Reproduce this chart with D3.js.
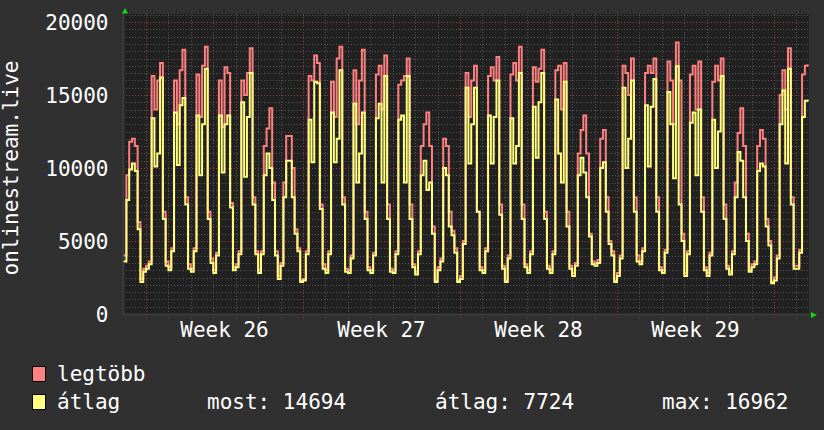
<!DOCTYPE html>
<html>
<head>
<meta charset="utf-8">
<script src="https://cdn.jsdelivr.net/npm/d3@7"></script>
<style>
  body { margin: 0; background: #303030; }
  svg { display: block; }
  text { font-family: "DejaVu Sans Mono", monospace; font-size: 21px; fill: #ffffff; }
</style>
</head>
<body>
<svg id="chart" width="824" height="430"></svg>
<script>
// első nap (vasárnap) és 3 órás mintavétel
const startDay = new Date(Date.UTC(2023, 5, 25));
const stepHours = 3;
const spanDays = 30.56;

// legtöbb (max) értékek, naponta 8 minta
const maxValues = [
  4000, 9500, 11800, 12000, 11500, 6300, 2400, 3100,
  3300, 3600, 16300, 14000, 16000, 17200, 7000, 3600,
  3200, 4500, 16000, 13000, 16700, 18100, 8000, 3400,
  3100, 4500, 16400, 13500, 17000, 18300, 7000, 3800,
  3000, 4200, 16000, 12800, 16900, 16500, 7600, 3200,
  3400, 4300, 16000, 15000, 16500, 18200, 8000, 4300,
  3000, 4300, 11500, 12700, 14100, 9000, 4300, 2600,
  3500, 9000, 12200, 12200, 10000, 5800, 4500, 2300,
  2400, 4300, 16300, 16000, 17700, 17200, 7500, 3400,
  3000, 4300, 15900, 13500, 17500, 18300, 8000, 3100,
  3000, 4000, 16700, 13000, 16000, 18100, 7000, 3200,
  3000, 4200, 16400, 17000, 14000, 17700, 7500, 3100,
  3000, 4300, 15700, 16000, 16300, 17500, 7500, 3400,
  2900, 4300, 11500, 13000, 13800, 11500, 6000, 2300,
  3200, 3800, 12000, 11500, 7000, 5700, 4500, 2300,
  2600, 5000, 16500, 13500, 16000, 17000, 7000, 3200,
  3000, 4500, 16300, 16900, 16000, 17600, 7500, 3300,
  2300, 4000, 16400, 17200, 16000, 18300, 7500, 3400,
  3000, 4300, 16900, 15900, 16800, 18100, 7000, 3300,
  3000, 4300, 16700, 17000, 14000, 17200, 7000, 3300,
  2800, 3500, 11000, 12600, 13600, 11000, 5500, 3600,
  3500, 3700, 12000, 12600, 8000, 5000, 4300, 2300,
  2800, 4000, 17000, 16500, 15000, 17500, 8000, 4000,
  3600, 4500, 16500, 17000, 16500, 17500, 8000, 3200,
  3000, 4400, 17300, 16000, 13000, 18600, 16000, 5500,
  2800, 4300, 16400, 17000, 14000, 17300, 8000, 3200,
  2800, 4200, 15900, 17000, 16000, 17500, 7500, 3300,
  2900, 4300, 9000, 12400, 14100, 11500, 5500, 3000,
  3400, 3600, 11500, 12600, 12000, 6500, 5000, 2200,
  2500, 4000, 15000, 16700, 14000, 18200, 8000, 3300,
  3300, 4400, 16400, 17000, 17100
];

// átlag értékek
const avgValues = [
  3600, 7800, 9900, 10300, 9800, 5800, 2200, 2900,
  3100, 3400, 13400, 10100, 11000, 16200, 6500, 3300,
  3000, 4300, 13800, 10200, 14300, 14800, 7500, 3100,
  2900, 4300, 13600, 9500, 13000, 16800, 6500, 3500,
  2800, 4000, 13600, 9700, 13000, 13600, 7300, 3000,
  3200, 4100, 14500, 9400, 13500, 16500, 7500, 4100,
  2800, 4100, 9500, 11000, 10000, 7800, 4000, 2400,
  3300, 8000, 10500, 10500, 8000, 5500, 4300, 2200,
  2300, 4100, 13300, 10400, 15900, 15800, 7200, 3100,
  2800, 4100, 13800, 10400, 12000, 16700, 7500, 2900,
  2800, 3800, 14400, 9000, 11000, 13800, 6500, 3000,
  2800, 4000, 13400, 14400, 9000, 16300, 6500, 2900,
  2800, 4100, 13300, 13600, 9000, 16300, 6500, 3200,
  2700, 4100, 9500, 10500, 8500, 9000, 5500, 2200,
  3000, 3600, 10000, 9500, 6000, 5400, 4200, 2200,
  2400, 4800, 15500, 10300, 13000, 15500, 7000, 3000,
  2800, 4300, 13600, 10300, 13500, 16000, 6800, 3100,
  2200, 3800, 13400, 10300, 11500, 16500, 6500, 3200,
  2800, 4100, 14200, 10700, 14500, 16500, 6500, 3100,
  2800, 4100, 14700, 11000, 9000, 15900, 6000, 3100,
  2600, 3300, 9500, 10700, 9700, 8000, 5300, 3400,
  3300, 3500, 10000, 10400, 7000, 4800, 4000, 2200,
  2600, 3800, 15500, 10000, 12000, 16000, 7000, 3600,
  3400, 4300, 14300, 10100, 14200, 16100, 7000, 3000,
  2800, 4200, 15200, 13000, 9300, 16962, 7500, 5000,
  2600, 4100, 13100, 13800, 9500, 14000, 7000, 3000,
  2600, 4000, 13300, 10000, 12500, 16300, 6500, 3100,
  2700, 4100, 8000, 11100, 10500, 8000, 5000, 2900,
  3200, 3400, 9800, 10300, 10100, 6000, 4700, 2100,
  2300, 3800, 13000, 15300, 10300, 16800, 7500, 3100,
  3100, 4200, 13500, 14600, 14694
];

const yTickValues = [0, 5000, 10000, 15000, 20000];
const weekStarts = [
  new Date(Date.UTC(2023, 5, 26)), new Date(Date.UTC(2023, 6, 3)),
  new Date(Date.UTC(2023, 6, 10)), new Date(Date.UTC(2023, 6, 17))
];
const legendNames = ["legtöbb", "átlag"];
const legendStats = ["most: 14694", "átlag: 7724", "max: 16962"];
const seriesColors = ["#ff8080", "#ffff80"];

const plot = { left: 123, right: 809, top: 14, bottom: 315 };

const svg = d3.select("#chart");
svg.append("rect").attr("width", 824).attr("height", 430).attr("fill", "#303030");

const x = d3.scaleUtc()
  .domain([startDay, new Date(startDay.getTime() + spanDays * 864e5)])
  .range([123.6, 809]);
const y = d3.scaleLinear().domain([0, 20000]).range([314, 22]);

svg.append("rect")
  .attr("x", plot.left).attr("y", plot.top)
  .attr("width", plot.right - plot.left).attr("height", plot.bottom - plot.top)
  .attr("fill", "#212121");

svg.append("defs").append("clipPath").attr("id", "clip")
  .append("rect")
  .attr("x", plot.left).attr("y", plot.top)
  .attr("width", plot.right - plot.left).attr("height", plot.bottom - plot.top);

// rács
const grid = svg.append("g").attr("shape-rendering", "crispEdges");
const minorY = d3.range(500, 20600, 500).filter(v => v % 5000 !== 0);
grid.selectAll(".hmin").data(minorY).join("line")
  .attr("x1", plot.left).attr("x2", plot.right)
  .attr("y1", d => Math.round(y(d)) + 0.5).attr("y2", d => Math.round(y(d)) + 0.5)
  .attr("stroke", "#555").attr("stroke-dasharray", "1,2");

const days = d3.utcDay.range(startDay, x.domain()[1]).slice(1)
  .filter(d => d.getUTCDay() !== 1);
grid.selectAll(".vmin").data(days).join("line")
  .attr("x1", d => Math.round(x(d)) + 0.5).attr("x2", d => Math.round(x(d)) + 0.5)
  .attr("y1", plot.top).attr("y2", plot.bottom + 3)
  .attr("stroke", "#555").attr("stroke-dasharray", "1,2");

grid.selectAll(".hmaj").data(yTickValues.slice(1)).join("line")
  .attr("x1", plot.left).attr("x2", plot.right)
  .attr("y1", d => Math.round(y(d)) + 0.5).attr("y2", d => Math.round(y(d)) + 0.5)
  .attr("stroke", "#8a4444").attr("stroke-dasharray", "1,2");

const mondays = d3.utcMonday.range(startDay, x.domain()[1]);
grid.selectAll(".vmaj").data(mondays).join("line")
  .attr("x1", d => Math.round(x(d)) + 0.5).attr("x2", d => Math.round(x(d)) + 0.5)
  .attr("y1", plot.top).attr("y2", plot.bottom + 3)
  .attr("stroke", "#8a4444").attr("stroke-dasharray", "1,2");

// tengelyek
svg.append("line").attr("x1", 123.5).attr("x2", 123.5).attr("y1", plot.top - 2).attr("y2", plot.bottom)
  .attr("stroke", "#3c3c3c").attr("stroke-width", 2);
svg.append("line").attr("x1", plot.left).attr("x2", plot.right + 2).attr("y1", 314.5).attr("y2", 314.5)
  .attr("stroke", "#3c3c3c").attr("stroke-width", 2);
svg.append("path").attr("d", "M122,13.5L128,13.5L125,8Z").attr("fill", "#11dd11");
svg.append("path").attr("d", "M811,312L811,318L817,315Z").attr("fill", "#11dd11");

// vonalak, lépcsős rajzolás (rrdtool-szerű)
const times = maxValues.map((v, i) => new Date(startDay.getTime() + i * stepHours * 36e5));
const line = d3.line()
  .x((d, i) => x(times[i]))
  .y(d => y(d))
  .curve(d3.curveStepAfter);

const lines = svg.append("g").attr("clip-path", "url(#clip)");
[maxValues, avgValues].forEach((vals, k) => {
  lines.append("path")
    .datum(vals)
    .attr("d", line)
    .attr("fill", "none")
    .attr("stroke", seriesColors[k])
    .attr("stroke-width", 2)
    .attr("stroke-linejoin", "miter");
});

// feliratok
svg.selectAll(".ylab").data(yTickValues).join("text")
  .attr("x", 108.5).attr("y", d => y(d))
  .attr("dy", "0.36em")
  .attr("text-anchor", "end")
  .text(d => d);

svg.append("text")
  .attr("transform", "translate(18,168) rotate(-90)")
  .attr("text-anchor", "middle")
  .text("onlinestream.live");

svg.selectAll(".xlab").data(weekStarts).join("text")
  .attr("x", d => x(new Date(d.getTime() + 3.5 * 864e5)))
  .attr("y", 337)
  .attr("text-anchor", "middle")
  .text(d => "Week " + d3.utcFormat("%V")(d));

// jelmagyarázat
legendNames.forEach((name, k) => {
  const ly = 366 + k * 28;
  svg.append("rect")
    .attr("x", 32.5).attr("y", ly + 0.5).attr("width", 13).attr("height", 15)
    .attr("fill", seriesColors[k]).attr("stroke", "#000");
  svg.append("text").attr("x", 57).attr("y", ly + 15).text(name);
});
const statX = [207, 435, 662];
legendStats.forEach((s, k) => {
  svg.append("text").attr("x", statX[k]).attr("y", 409).text(s);
});
</script>
</body>
</html>
